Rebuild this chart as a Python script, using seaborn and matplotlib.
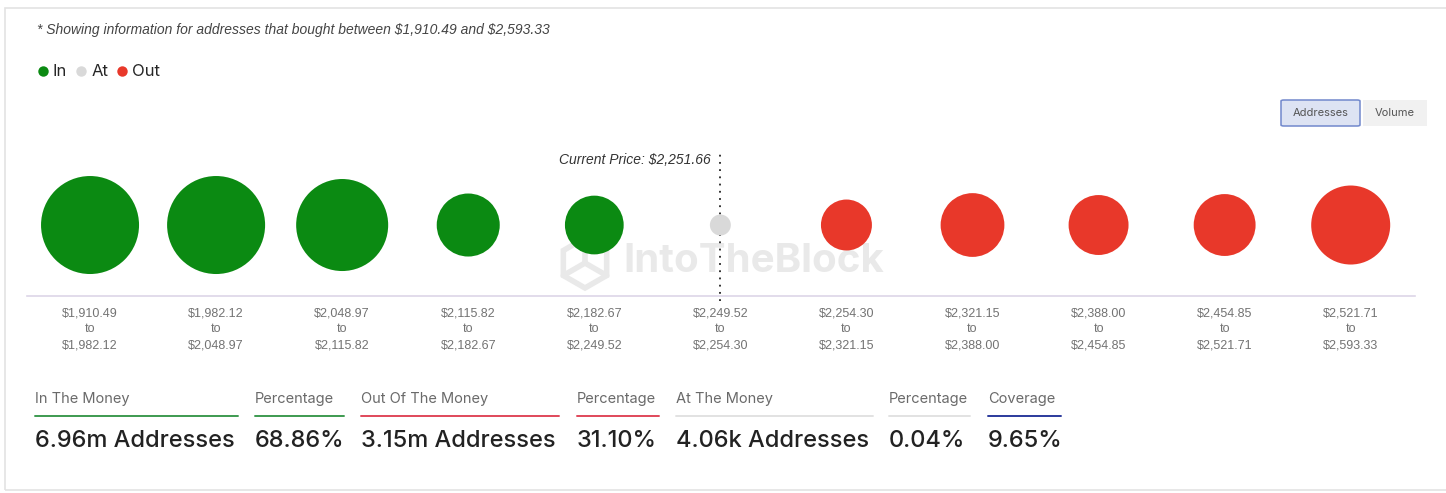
import numpy as np
import pandas as pd
import matplotlib
matplotlib.use("Agg")
import matplotlib.pyplot as plt
import seaborn as sns
from matplotlib.patches import FancyBboxPatch, Rectangle, Polygon
from matplotlib.lines import Line2D

# ---------------- data ----------------
range_low = ["$1,910.49", "$1,982.12", "$2,048.97", "$2,115.82", "$2,182.67", "$2,249.52",
             "$2,254.30", "$2,321.15", "$2,388.00", "$2,454.85", "$2,521.71"]
range_high = ["$1,982.12", "$2,048.97", "$2,115.82", "$2,182.67", "$2,249.52", "$2,254.30",
              "$2,321.15", "$2,388.00", "$2,454.85", "$2,521.71", "$2,593.33"]
status = ["In", "In", "In", "In", "In", "At", "Out", "Out", "Out", "Out", "Out"]
addresses_m = [1.94, 1.94, 1.70, 0.75, 0.64, 0.004, 0.46, 0.77, 0.67, 0.72, 1.23]
current_price_label = "Current Price: $2,251.66"
current_bin = 5

stat_labels = ["In The Money", "Percentage", "Out Of The Money", "Percentage",
               "At The Money", "Percentage", "Coverage"]
stat_values = ["6.96m Addresses", "68.86%", "3.15m Addresses", "31.10%",
               "4.06k Addresses", "0.04%", "9.65%"]

colors = {"In": "#0b8a12", "At": "#d9d9d9", "Out": "#e8382a"}

W, H = 1446, 493
def fx(px): return px / W
def fy(py): return 1 - py / H
def esc(s): return s.replace("$", r"\$")

sns.set_theme(style="white")
plt.rcParams['font.family'] = ['Liberation Sans', 'DejaVu Sans']

fig = plt.figure(figsize=(W / 100, H / 100), dpi=100)
fig.patch.set_facecolor("white")

# card border
fig.patches.append(Rectangle((fx(5), fy(490)), fx(1460) - fx(5), fy(8) - fy(490),
                             transform=fig.transFigure, facecolor="none",
                             edgecolor="#e3e3e3", linewidth=1.2, zorder=-1))

# ---------------- bubble axis ----------------
ax_left, ax_right, ax_top, ax_bot = 27, 1415, 140, 296
ax = fig.add_axes([fx(ax_left), fy(ax_bot), fx(ax_right) - fx(ax_left), fy(ax_top) - fy(ax_bot)])
ax.set_facecolor("none")

df = pd.DataFrame({"bin": np.arange(len(status)), "y": 0.0,
                   "status": status, "addresses": addresses_m})

# watermark (text + cube logo)
wm_color = "#e9e9e9"
ax.text(fx(754), fy(261), "IntoTheBlock", ha="center", va="center", fontsize=29,
        fontweight="bold", color=wm_color, zorder=0, family="Inter",
        transform=fig.transFigure)
cx, cy, r = 585, 263, 25
ang = np.deg2rad(np.arange(6) * 60 + 30)
hexv = [(fx(cx + r * np.cos(a)), fy(cy - r * np.sin(a))) for a in ang]
ax.add_patch(Polygon(hexv, closed=True, fill=False, edgecolor=wm_color, linewidth=4,
                     transform=fig.transFigure, zorder=0))
for a in np.deg2rad([90, 210, 330]):
    ax.add_line(Line2D([fx(cx), fx(cx + r * np.cos(a))], [fy(cy), fy(cy - r * np.sin(a))],
                       color=wm_color, linewidth=4, transform=fig.transFigure, zorder=0))

sns.scatterplot(data=df, x="bin", y="y", hue="status", size="addresses",
                palette=colors, sizes=(228, 4979), size_norm=(0.004, 1.94),
                linewidth=0, legend=False, ax=ax, zorder=3)

ax.set_xlim(-0.5, 10.51)
ax.set_ylim(-0.455, 0.545)
ax.axvline(current_bin, ymin=-0.03, ymax=0.92, color="#222222", linestyle=(0, (1, 3)),
           linewidth=1.3, zorder=2, clip_on=False)
ax.text(current_bin - 0.08, 0.872, esc(current_price_label), transform=ax.get_xaxis_transform(),
        ha="right", va="center", fontsize=10, style="italic", color="#333333")

ax.set_xticks(df["bin"])
ax.set_xticklabels([esc(f"{a}\nto\n{b}") for a, b in zip(range_low, range_high)],
                   fontsize=9, color="#737373", linespacing=1.45)
ax.tick_params(axis="x", length=0, pad=8)
ax.set_yticks([])
ax.set_xlabel("")
ax.set_ylabel("")
for s in ["top", "left", "right"]:
    ax.spines[s].set_visible(False)
ax.spines["bottom"].set_color("#ddd6e8")
ax.spines["bottom"].set_linewidth(1.2)

# ---------------- header & legend ----------------
fig.text(fx(37), fy(30), esc("* Showing information for addresses that bought between $1,910.49 and $2,593.33"),
         fontsize=10, style="italic", color="#444444", ha="left", va="center")

handles = [Line2D([], [], marker="o", linestyle="", markersize=7.5,
                  markerfacecolor=colors[k], markeredgewidth=0, label=k)
           for k in ["In", "At", "Out"]]
fig.legend(handles=handles, loc="center left", bbox_to_anchor=(fx(31), fy(72)),
           ncol=3, frameon=False, handlelength=0.6, handletextpad=0.3,
           columnspacing=0.55, borderaxespad=0, prop={"family": "Inter", "size": 12})

# buttons
fig.patches.append(FancyBboxPatch((fx(1281), fy(126)), fx(1360) - fx(1281), fy(100) - fy(126),
                                  boxstyle="round,pad=0,rounding_size=0.002",
                                  transform=fig.transFigure, facecolor="#dde3f3",
                                  edgecolor="#7188cc", linewidth=1.1))
fig.patches.append(Rectangle((fx(1363), fy(126)), fx(1427) - fx(1363), fy(100) - fy(126),
                             transform=fig.transFigure, facecolor="#f1f1f1", edgecolor="none"))
fig.text(fx(1320.5), fy(113), "Addresses", fontsize=8, color="#555555", ha="center", va="center",
         family="Inter")
fig.text(fx(1395), fy(113), "Volume", fontsize=8, color="#555555", ha="center", va="center",
         family="Inter")

# ---------------- bottom stats ----------------
stat_x = [35, 255, 361, 577, 676, 889, 988]
stat_end = [238, 344, 559, 659, 873, 970, 1061]
stat_colors = ["#3d9a50", "#3d9a50", "#e0485a", "#e0485a", "#e2e2e2", "#e2e2e2", "#2b3a9c"]
for x0, x1, lab, val, c in zip(stat_x, stat_end, stat_labels, stat_values, stat_colors):
    fig.text(fx(x0), fy(399), lab, fontsize=10.5, color="#6a6a6a", ha="left", va="center",
             family="Inter")
    fig.add_artist(Line2D([fx(x0), fx(x1)], [fy(416), fy(416)], color=c, linewidth=1.4,
                          transform=fig.transFigure))
    fig.text(fx(x0), fy(441), val, fontsize=17, color="#222222", ha="left", va="center",
             family="Inter", fontweight="medium")

fig.savefig("out.png", dpi=100)
